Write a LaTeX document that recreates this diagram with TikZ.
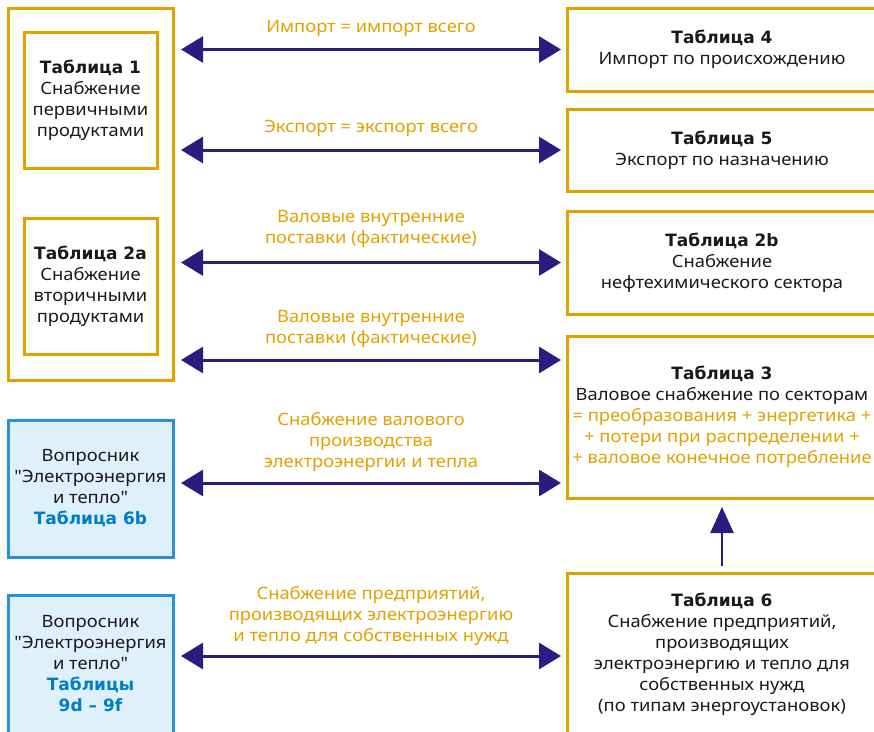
\documentclass[tikz,border=0pt]{standalone}
\usepackage{fontspec}
\setmainfont{Noto Sans}[FakeStretch=1.08, Ligatures=TeXOff]
\newfontfamily\headfont{DejaVu Sans}[Ligatures=TeXOff]
\usepackage{xcolor}
\usetikzlibrary{arrows.meta}

\definecolor{boxorange}{RGB}{229,160,0}
\definecolor{arrowblue}{RGB}{44,28,128}
\definecolor{qblue}{RGB}{0,125,200}
\definecolor{qborder}{RGB}{40,145,215}
\definecolor{qfill}{RGB}{222,240,250}
\definecolor{textblack}{RGB}{26,26,26}

\newcommand{\tabhead}[1]{{\headfont\bfseries\fontsize{17}{21}\selectfont #1}}

\begin{document}
\begin{tikzpicture}[x=1pt, y=-1pt,
		every node/.style={font=\fontsize{17}{21}\selectfont, text=textblack, align=center, inner sep=0pt, outer sep=0pt},
		orangebox/.style={draw=boxorange, line width=3pt},
		bluebox/.style={draw=qborder, fill=qfill, line width=3pt},
		flowtext/.style={text=boxorange},
		flow/.style={draw=arrowblue, line width=3pt, {Triangle[width=26pt,length=22pt]}-{Triangle[width=26pt,length=22pt]}, shorten <=8pt, shorten >=6pt},
		upflow/.style={draw=arrowblue, line width=2.5pt, -{Triangle[width=23pt,length=26pt]}, shorten <=7pt, shorten >=9pt}
	]
		\useasboundingbox (0,0) rectangle (874,731);
		\clip (0,0) rectangle (874,731);

		\node[orangebox, minimum width=165pt, minimum height=372pt] (supply) at (90.5,194) {};
		\node[orangebox, minimum width=133pt, minimum height=136pt] (t1) at (90.5,100) {\tabhead{Таблица 1}\\Снабжение\\первичными\\продуктами};
		\node[orangebox, minimum width=133pt, minimum height=136pt] (t2a) at (90.5,286) {\tabhead{Таблица 2a}\\Снабжение\\вторичными\\продуктами};
		\node[bluebox, minimum width=165pt, minimum height=137pt] (q6b) at (90.5,488.5) {Вопросник\\"Электроэнергия\\и тепло"\\\textcolor{qblue}{\tabhead{Таблица 6b}}};
		\node[bluebox, minimum width=165pt, minimum height=138pt] (q9) at (90.5,664) {Вопросник\\"Электроэнергия\\и тепло"\\\textcolor{qblue}{\tabhead{Таблицы}}\\\textcolor{qblue}{\tabhead{9d – 9f}}};

		\node[orangebox, minimum width=310pt, minimum height=83pt] (t4) at (722,49.5) {\tabhead{Таблица 4}\\Импорт по происхождению};
		\node[orangebox, minimum width=310pt, minimum height=82pt] (t5) at (722,150) {\tabhead{Таблица 5}\\Экспорт по назначению};
		\node[orangebox, minimum width=310pt, minimum height=103pt] (t2b) at (722,262.5) {\tabhead{Таблица 2b}\\Снабжение\\нефтехимического сектора};
		\node[orangebox, minimum width=310pt, minimum height=162pt] (t3) at (722,417) {\tabhead{Таблица 3}\\Валовое снабжение по секторам\\\textcolor{boxorange}{= преобразования + энергетика +}\\\textcolor{boxorange}{+ потери при распределении +}\\\textcolor{boxorange}{+ валовое конечное потребление}};
		\node[orangebox, minimum width=310pt, minimum height=162pt] (t6) at (722,654) {\tabhead{Таблица 6}\\Снабжение предприятий,\\производящих\\электроэнергию и тепло для\\собственных нужд\\(по типам энергоустановок)};

		\node[flowtext] (imp) at (371,28) {Импорт = импорт всего};
		\node[flowtext] (exp) at (371,128) {Экспорт = экспорт всего};
		\node[flowtext] (gross1) at (371,228.5) {Валовые внутренние\\поставки (фактические)};
		\node[flowtext] (gross2) at (371,329) {Валовые внутренние\\поставки (фактические)};
		\node[flowtext] (elec) at (371,441.5) {Снабжение валового\\производства\\электроэнергии и тепла};
		\node[flowtext] (own) at (371,616) {Снабжение предприятий,\\производящих электроэнергию\\и тепло для собственных нужд};

		\coordinate (y4) at (0,360);
		\coordinate (y5) at (0,483);
		\coordinate (y6) at (0,656);

		\draw[flow] (supply.east |- t4.west) -- (t4.west);
		\draw[flow] (supply.east |- t5.west) -- (t5.west);
		\draw[flow] (supply.east |- t2b.west) -- (t2b.west);
		\draw[flow] (supply.east |- y4) -- (t3.west |- y4);
		\draw[flow] (q6b.east |- y5) -- (t3.west |- y5);
		\draw[flow] (q9.east |- y6) -- (t6.west |- y6);
		\draw[upflow] (t6.north) -- (t3.south);
	\end{tikzpicture}
\end{document}
